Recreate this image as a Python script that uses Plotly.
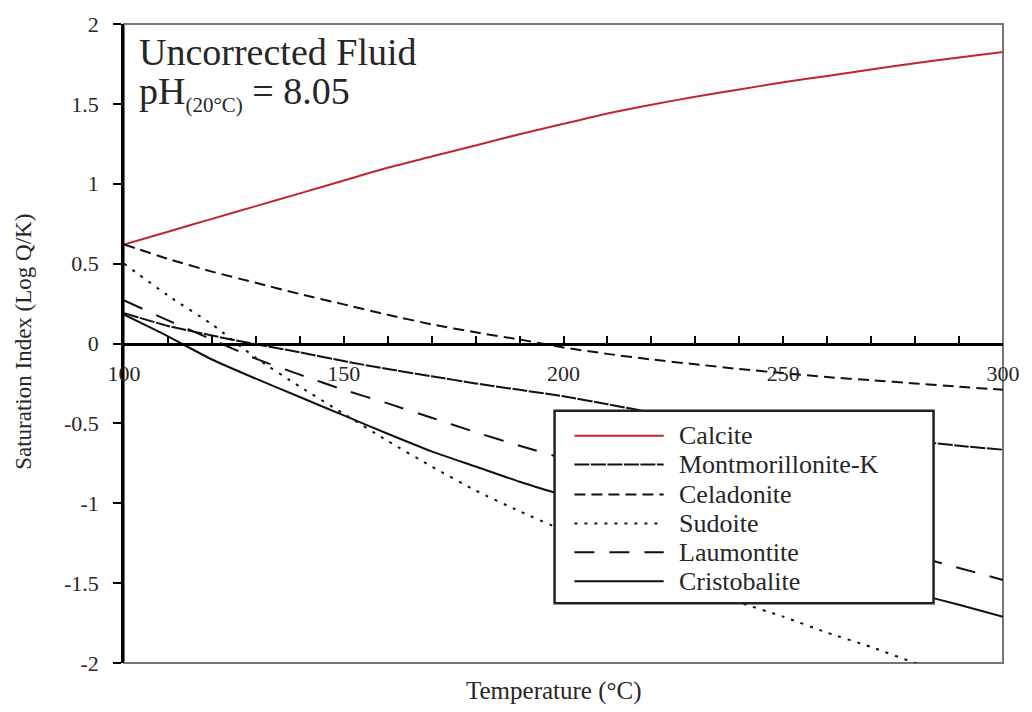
import plotly.graph_objects as go

# Temperature grid (°C)
temperature = [100, 110, 120, 130, 140, 150, 160, 170, 180, 190, 200,
               210, 220, 230, 240, 250, 260, 270, 280, 290, 300]

# Saturation indices, log(Q/K)
calcite = [0.62, 0.70, 0.78, 0.86, 0.94, 1.02, 1.10, 1.17, 1.24, 1.31, 1.375,
           1.44, 1.495, 1.545, 1.59, 1.635, 1.675, 1.715, 1.755, 1.79, 1.825]
montmorillonite_k = [0.19, 0.11, 0.05, -0.005, -0.055, -0.11, -0.16, -0.205, -0.25, -0.29, -0.33,
                     -0.38, -0.43, -0.46, -0.49, -0.52, -0.55, -0.58, -0.61, -0.64, -0.665]
celadonite = [0.62, 0.53, 0.45, 0.38, 0.31, 0.245, 0.18, 0.12, 0.07, 0.025, -0.025,
              -0.065, -0.10, -0.13, -0.16, -0.185, -0.21, -0.23, -0.25, -0.27, -0.29]
sudoite = [0.50, 0.30, 0.12, -0.09, -0.27, -0.44, -0.61, -0.77, -0.92, -1.05, -1.17,
           -1.28, -1.40, -1.51, -1.62, -1.71, -1.81, -1.90, -2.00, -2.09, -2.18]
laumontite = [0.27, 0.145, 0.025, -0.095, -0.195, -0.29, -0.375, -0.465, -0.555, -0.64, -0.72,
              -0.80, -0.875, -0.95, -1.03, -1.105, -1.18, -1.255, -1.33, -1.405, -1.48]
cristobalite = [0.18, 0.045, -0.10, -0.22, -0.335, -0.45, -0.565, -0.675, -0.77, -0.865, -0.95,
                -1.035, -1.115, -1.195, -1.27, -1.345, -1.42, -1.49, -1.565, -1.635, -1.71]

series_names = ["Calcite", "Montmorillonite-K", "Celadonite", "Sudoite", "Laumontite", "Cristobalite"]
series_values = [calcite, montmorillonite_k, celadonite, sudoite, laumontite, cristobalite]

# Axis ticks
x_tick_values = [100, 150, 200, 250, 300]
x_tick_text = ["100", "150", "200", "250", "300"]
x_minor_step = 10
y_tick_values = [-2, -1.5, -1, -0.5, 0, 0.5, 1, 1.5, 2]
y_tick_text = ["-2", "-1.5", "-1", "-0.5", "0", "0.5", "1", "1.5", "2"]

# Line styles per mineral
styles = {
    "Calcite": dict(color="#c0262e", dash="solid"),
    "Montmorillonite-K": dict(color="#111111", dash="15px,1.5px"),
    "Celadonite": dict(color="#111111", dash="11px,6px"),
    "Sudoite": dict(color="#111111", dash="3px,7px"),
    "Laumontite": dict(color="#111111", dash="20px,15px"),
    "Cristobalite": dict(color="#111111", dash="solid"),
}

SERIF = "Liberation Serif"
TEXT = "#262626"

W, H = 1032, 712
ML, MR, MT, MB = 124, 22, 22, 49
PW, PH = W - ML - MR, H - MT - MB


def px_x(p):
    return (p - ML) / PW


def px_y(p):
    return (H - MB - p) / PH


fig = go.Figure()
for name, vals in zip(series_names, series_values):
    st = styles[name]
    fig.add_trace(go.Scatter(
        x=temperature, y=vals, mode="lines", name=name, showlegend=False,
        line=dict(color=st["color"], width=2, dash=st["dash"], shape="spline", smoothing=0.6),
        hoverinfo="skip",
    ))

shapes = [
    # plot frame
    dict(type="rect", xref="paper", yref="paper", x0=0, x1=1, y0=0, y1=1,
         line=dict(color="#777777", width=2), layer="below"),
    # legend box
    dict(type="rect", xref="paper", yref="paper",
         x0=px_x(558), x1=px_x(940), y0=px_y(603), y1=px_y(410),
         line=dict(color="#222222", width=2.5), fillcolor="white", layer="above"),
]
annotations = []

row_y = [435, 464, 494, 523, 552, 581]
for name, ry in zip(series_names, row_y):
    st = styles[name]
    shapes.append(dict(type="line", xref="paper", yref="paper",
                       x0=px_x(578), x1=px_x(668), y0=px_y(ry), y1=px_y(ry),
                       line=dict(color=st["color"], width=2, dash=st["dash"]),
                       layer="above"))
    annotations.append(dict(text=name, xref="paper", yref="paper",
                            x=px_x(681), y=px_y(ry), xanchor="left", yanchor="middle",
                            showarrow=False, font=dict(family=SERIF, size=26, color=TEXT)))

annotations += [
    dict(text="Uncorrected Fluid", xref="paper", yref="paper",
         x=px_x(137), y=px_y(50), xanchor="left", yanchor="middle",
         showarrow=False, font=dict(family=SERIF, size=38, color=TEXT)),
    dict(text="pH<sub><span style='font-size:21px'>(20°C)</span></sub> = 8.05",
         xref="paper", yref="paper",
         x=px_x(137), y=px_y(92), xanchor="left", yanchor="middle",
         showarrow=False, font=dict(family=SERIF, size=38, color=TEXT)),
    dict(text="Saturation Index (Log Q/K)", xref="paper", yref="paper",
         x=px_x(22), y=px_y(341), xanchor="center", yanchor="middle", textangle=-90,
         showarrow=False, font=dict(family=SERIF, size=23, color=TEXT)),
    dict(text="Temperature (°C)", xref="paper", yref="paper",
         x=px_x(557), y=px_y(691), xanchor="center", yanchor="middle",
         showarrow=False, font=dict(family=SERIF, size=25, color=TEXT)),
]

fig.update_layout(
    width=W, height=H,
    margin=dict(l=ML, r=MR, t=MT, b=MB, pad=0),
    paper_bgcolor="white", plot_bgcolor="white",
    showlegend=False,
    shapes=shapes, annotations=annotations,
    xaxis=dict(
        range=[100, 300], anchor="free", position=0.5,
        showline=True, linecolor="black", linewidth=2.5,
        ticks="inside", ticklen=7, tickwidth=2, tickcolor="black",
        tickmode="array", tickvals=x_tick_values, ticktext=x_tick_text,
        minor=dict(tick0=100, dtick=x_minor_step, ticks="inside", ticklen=7,
                   tickwidth=2, tickcolor="black", showgrid=False),
        tickfont=dict(family=SERIF, size=22, color=TEXT),
        ticklabelstandoff=9,
        showgrid=False, zeroline=False,
    ),
    yaxis=dict(
        range=[-2, 2],
        showline=True, linecolor="black", linewidth=2.5,
        ticks="outside", ticklen=8, tickwidth=2, tickcolor="black",
        tickmode="array", tickvals=y_tick_values, ticktext=y_tick_text,
        tickfont=dict(family=SERIF, size=22, color=TEXT),
        ticklabelstandoff=10,
        showgrid=False, zeroline=False,
    ),
)

fig.write_html("out.html", config={"displayModeBar": False})
